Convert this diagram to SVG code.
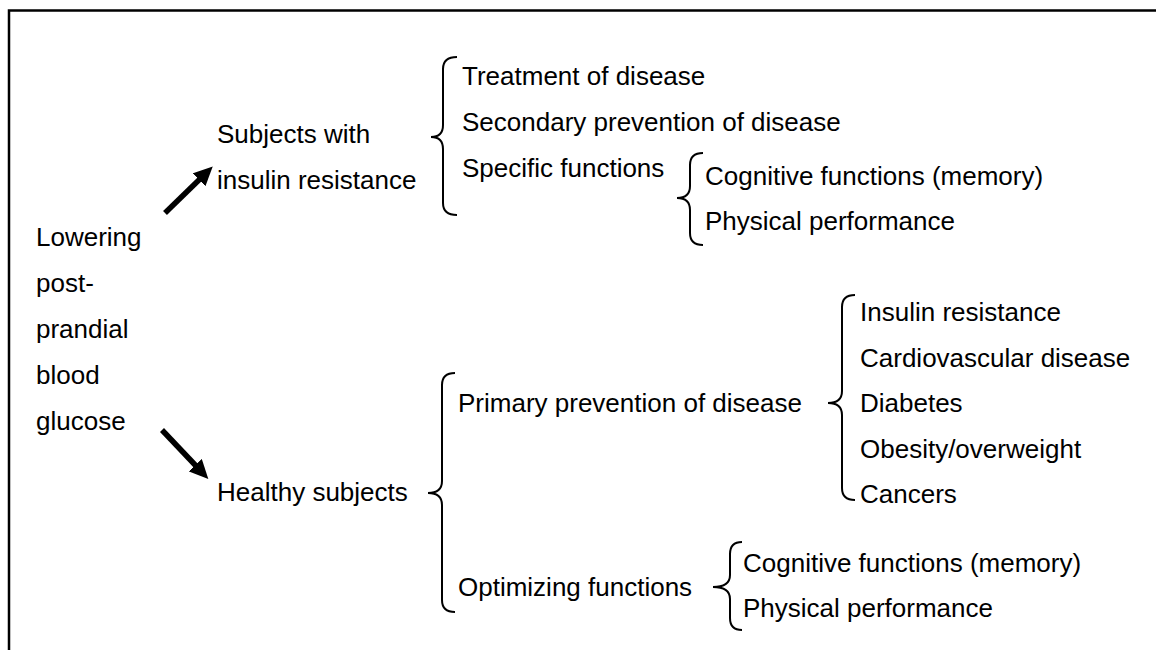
<svg xmlns="http://www.w3.org/2000/svg" width="1156" height="650" viewBox="0 0 1156 650">
<style>
  text { font-family: "Liberation Sans", Arial, sans-serif; font-size: 26px; fill: #000; }
  .brace { fill: none; stroke: #000; stroke-width: 2; }
  .arrow { stroke: #000; stroke-width: 5.5; fill: none; }
  .frame { stroke: #000; stroke-width: 2.5; fill: none; }
</style>
<defs>
  <marker id="head" markerUnits="userSpaceOnUse" markerWidth="20" markerHeight="18" refX="4" refY="9" orient="auto">
    <path d="M0,0 L19,9 L0,18 z" fill="#000"/>
  </marker>
</defs>
<rect width="1156" height="650" fill="#fff"/>
<g id="frame">
  <path class="frame" d="M9,650 L9,10.5 L1156,10.5"/>
</g>
<g id="connectors">
  <line class="arrow" x1="165" y1="213" x2="202" y2="177" marker-end="url(#head)"/>
  <line class="arrow" x1="162" y1="430" x2="198" y2="468" marker-end="url(#head)"/>
  <path class="brace" d="M457,57 Q443,57 443,69 L443,125 Q443,137 431,137 Q443,137 443,149 L443,203 Q443,215 457,215"/>
  <path class="brace" d="M703,153 Q690,153 690,165 L690,186 Q690,198 677,198 Q690,198 690,210 L690,233 Q690,245 703,245"/>
  <path class="brace" d="M455,373 Q442,373 442,385 L442,481 Q442,493 428,493 Q442,493 442,505 L442,600 Q442,612 455,612"/>
  <path class="brace" d="M855,295 Q842,295 842,307 L842,391 Q842,403 828,403 Q842,403 842,415 L842,488 Q842,500 855,500"/>
  <path class="brace" d="M742,542 Q730,542 730,554 L730,575 Q730,587 713,587 Q730,587 730,599 L730,618 Q730,630 742,630"/>
</g>
<g id="root">
  <text x="36" y="246">Lowering</text>
  <text x="36" y="292">post-</text>
  <text x="36" y="338">prandial</text>
  <text x="36" y="384">blood</text>
  <text x="36" y="430">glucose</text>
</g>
<g id="insulin-resistant">
  <text x="217" y="143">Subjects with</text>
  <text x="217" y="189">insulin resistance</text>
</g>
<g id="healthy">
  <text x="217" y="501">Healthy subjects</text>
</g>
<g id="ir-branches">
  <text x="462" y="85">Treatment of disease</text>
  <text x="462" y="131">Secondary prevention of disease</text>
  <text x="462" y="177">Specific functions</text>
</g>
<g id="ir-specific">
  <text x="705" y="185">Cognitive functions (memory)</text>
  <text x="705" y="230">Physical performance</text>
</g>
<g id="healthy-branches">
  <text x="458" y="412">Primary prevention of disease</text>
  <text x="458" y="596">Optimizing functions</text>
</g>
<g id="primary-prevention">
  <text x="860" y="321">Insulin resistance</text>
  <text x="860" y="367">Cardiovascular disease</text>
  <text x="860" y="412">Diabetes</text>
  <text x="860" y="458">Obesity/overweight</text>
  <text x="860" y="503">Cancers</text>
</g>
<g id="optimizing">
  <text x="743" y="572">Cognitive functions (memory)</text>
  <text x="743" y="617">Physical performance</text>
</g>
</svg>
